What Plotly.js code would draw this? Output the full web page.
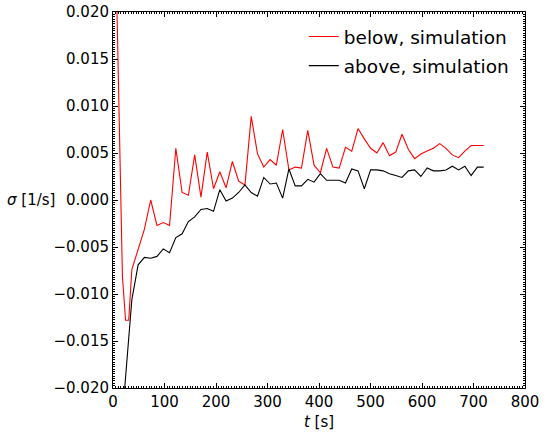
<!DOCTYPE html>
<html>
<head>
<meta charset="utf-8">
<script src="https://cdn.plot.ly/plotly-3.0.1.min.js"></script>
<style>html,body{margin:0;padding:0;background:#fff;}#chart{width:546px;height:434px;}</style>
</head>
<body>
<div id="chart"></div>
<script>
// time [s]
var tBelow = [0, 18.3, 24.4, 30.5, 36.6, 48.8, 61.0, 73.2, 85.4, 97.6, 109.8, 122.0, 134.2, 146.4, 158.6, 170.8, 183.0, 195.2, 207.4, 219.6, 231.8, 244.0, 256.2, 268.4, 280.6, 292.8, 305.0, 317.2, 329.4, 341.6, 353.8, 366.0, 378.2, 390.4, 402.6, 414.8, 427.0, 439.2, 451.4, 463.6, 475.8, 488.0, 500.2, 512.4, 524.6, 536.8, 549.0, 561.2, 573.4, 585.6, 597.8, 610.0, 622.2, 634.4, 646.6, 658.8, 671.0, 683.2, 695.4, 707.6, 719.8];
var sBelow = [0.0408, -0.0081, -0.0128, -0.0128, -0.0074, -0.0053, -0.0031, 0.0000, -0.0027, -0.0024, -0.0027, 0.0055, 0.0008, 0.0005, 0.0048, 0.0003, 0.0051, 0.0012, 0.0030, 0.0013, 0.0041, 0.0020, 0.0016, 0.0089, 0.0049, 0.0035, 0.0043, 0.0037, 0.0075, 0.0032, 0.0035, 0.0034, 0.0074, 0.0037, 0.0029, 0.0055, 0.0035, 0.0034, 0.0056, 0.0052, 0.0076, 0.0065, 0.0055, 0.0050, 0.0061, 0.0047, 0.0051, 0.0070, 0.0054, 0.0044, 0.0049, 0.0052, 0.0055, 0.0060, 0.0055, 0.0048, 0.0045, 0.0052, 0.0058, 0.0058, 0.0058];

var tAbove = [18.3, 36.6, 48.8, 61.0, 73.2, 85.4, 97.6, 109.8, 122.0, 134.2, 146.4, 158.6, 170.8, 183.0, 195.2, 207.4, 219.6, 231.8, 244.0, 256.2, 268.4, 280.6, 292.8, 305.0, 317.2, 329.4, 341.6, 353.8, 366.0, 378.2, 390.4, 402.6, 414.8, 427.0, 439.2, 451.4, 463.6, 475.8, 488.0, 500.2, 512.4, 524.6, 536.8, 549.0, 561.2, 573.4, 585.6, 597.8, 610.0, 622.2, 634.4, 646.6, 658.8, 671.0, 683.2, 695.4, 707.6, 719.8];
var sAbove = [-0.0230, -0.0106, -0.0069, -0.0061, -0.0062, -0.0060, -0.0052, -0.0056, -0.0040, -0.0036, -0.0023, -0.0018, -0.0010, -0.0009, -0.0012, 0.0011, -0.0001, 0.0002, 0.0008, 0.0016, 0.0008, 0.0004, 0.0024, 0.0017, 0.0018, 0.0002, 0.0033, 0.0015, 0.0015, 0.0022, 0.0019, 0.0028, 0.0021, 0.0021, 0.0021, 0.0018, 0.0033, 0.0031, 0.0012, 0.0032, 0.0032, 0.0031, 0.0028, 0.0026, 0.0024, 0.0031, 0.0032, 0.0025, 0.0034, 0.0031, 0.0031, 0.0032, 0.0036, 0.0032, 0.0036, 0.0026, 0.0035, 0.0035];

var seriesNames = ["below, simulation", "above, simulation"];
var xTickVals = [0, 100, 200, 300, 400, 500, 600, 700, 800];

var font = {family: "DejaVu Sans, sans-serif", size: 15, color: "#000"};
var legendFont = {family: "DejaVu Sans, sans-serif", size: 18.5, color: "#000"};

var traces = [
  {x: tBelow, y: sBelow, name: seriesNames[0], type: "scatter", mode: "lines",
   line: {color: "#ff0000", width: 1.1}, legendgroup: "a"},
  {x: tAbove, y: sAbove, name: seriesNames[1], type: "scatter", mode: "lines",
   line: {color: "#000000", width: 1.1}, legendgroup: "b"}
];

var axisCommon = {
  showline: true, linecolor: "#000", linewidth: 1, mirror: "ticks",
  ticks: "inside", ticklen: 5, tickwidth: 1, tickcolor: "#000",
  showgrid: false, zeroline: false, tickfont: font
};

var layout = {
  width: 546, height: 434,
  margin: {l: 113, r: 21, t: 12, b: 46},
  paper_bgcolor: "#fff", plot_bgcolor: "#fff",
  font: font,
  showlegend: true,
  legend: {x: 0.463, y: 0.984, xanchor: "left", yanchor: "top", bgcolor: "rgba(0,0,0,0)",
           font: legendFont, tracegroupgap: 2},
  xaxis: Object.assign({}, axisCommon, {
    range: [0, 800], tickvals: xTickVals,
    minor: {ticks: "inside", ticklen: 2, dtick: 5, tickcolor: "#000", tickwidth: 1, showgrid: false},
    title: {text: "<i>t</i> [s]", font: font, standoff: 6}
  }),
  yaxis: Object.assign({}, axisCommon, {
    range: [-0.02, 0.02], dtick: 0.005, tick0: 0, tickformat: ".3f",
    minor: {ticks: "inside", ticklen: 2, dtick: 0.00025, tickcolor: "#000", tickwidth: 1, showgrid: false}
  }),
  annotations: [{
    xref: "paper", yref: "y", x: -0.136, y: 0, xanchor: "right", yanchor: "middle",
    text: "<i>σ</i> [1/s]", showarrow: false, font: font
  }]
};

Plotly.newPlot("chart", traces, layout, {displayModeBar: false, staticPlot: true});
</script>
</body>
</html>
